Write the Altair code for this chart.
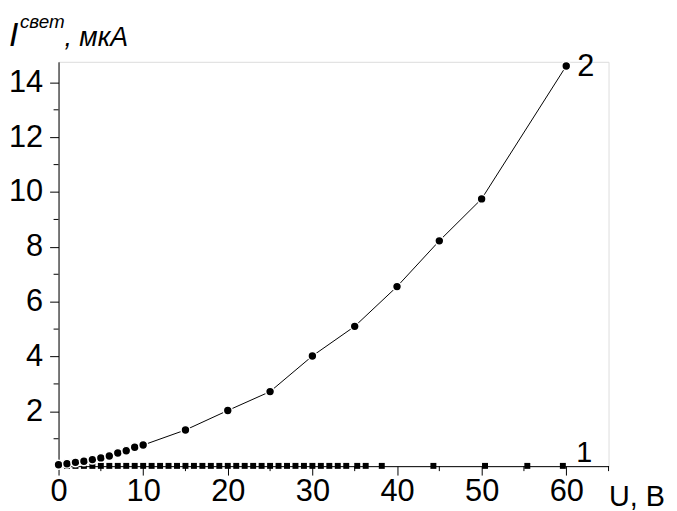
import altair as alt
import pandas as pd

# Series 2 (circles)
u2 = [0, 1, 2, 3, 4, 5, 6, 7, 8, 9, 10, 15, 20, 25, 30, 35, 40, 45, 50, 60]
i2 = [0.05, 0.09, 0.14, 0.18, 0.24, 0.30, 0.37, 0.48, 0.56, 0.69, 0.77,
      1.32, 2.03, 2.72, 4.02, 5.10, 6.55, 8.22, 9.75, 14.60]

# Series 1 (squares)
u1 = [1, 2, 3, 4, 5, 6, 7, 8, 9, 10, 11, 12, 13, 14, 15, 16, 17, 18, 19, 20,
      21, 22, 23, 24, 25, 26, 27, 28, 29, 30, 31, 32, 33, 34, 35.3, 36.3, 38.2,
      44.3, 50.4, 55.4, 59.6]
i1 = [0.01, 0.01, 0.01, 0.01, 0.01, 0.01, 0.01, 0.01, 0.01, 0.01, 0.01, 0.01,
      0.01, 0.01, 0.01, 0.01, 0.01, 0.01, 0.01, 0.01, 0.01, 0.01, 0.01, 0.01,
      0.01, 0.01, 0.01, 0.01, 0.01, 0.01, 0.01, 0.01, 0.01, 0.01, 0.01, 0.01,
      0.01, 0.01, 0.01, 0.01, 0.01]

x_major = [0, 10, 20, 30, 40, 50, 60]
x_minor = [5, 15, 25, 35, 45, 55, 65]
y_major = [2, 4, 6, 8, 10, 12, 14]
y_minor = [1, 3, 5, 7, 9, 11, 13]

FONT = "Liberation Sans"
W, H = 555, 408

df2 = pd.DataFrame({"u": u2, "i": i2})
df1 = pd.DataFrame({"u": u1, "i": i1})

xs = alt.Scale(domain=[0, 65], nice=False, zero=False)
ys = alt.Scale(domain=[0, 14.75], nice=False, zero=False)

x_axis = alt.Axis(
    values=x_major, tickSize=9, labelPadding=2, labelOverlap=False,
    grid=False, domainColor="black", tickColor="black", labelColor="black",
    labelFont=FONT, labelFontSize=31, labelFlush=False,
    title="U, В", titleFont=FONT, titleFontSize=29, titleFontWeight="normal",
    titleColor="black", titleX=555, titleY=40, titleAlign="left",
    titleBaseline="alphabetic",
)
y_axis = alt.Axis(
    values=y_major, tickSize=9, labelPadding=7, labelOverlap=False,
    grid=False, domainColor="black", tickColor="black", labelColor="black",
    labelFont=FONT, labelFontSize=31, labelFlush=False,
    title=None,
)

line2 = alt.Chart(df2).mark_line(color="black", strokeWidth=1).encode(
    x=alt.X("u:Q", scale=xs, axis=x_axis),
    y=alt.Y("i:Q", scale=ys, axis=y_axis),
)
pts2 = alt.Chart(df2).mark_point(
    shape="circle", filled=True, color="black", size=80, opacity=1,
    stroke="white", strokeWidth=1.5,
).encode(x="u:Q", y="i:Q")
pts1 = alt.Chart(df1).mark_point(
    shape="square", filled=True, color="black", size=36, opacity=1,
).encode(x="u:Q", y="i:Q")

# minor ticks
ymin_ticks = alt.Chart(pd.DataFrame({"v": y_minor})).mark_rule(
    color="black", strokeWidth=1
).encode(y="v:Q", x=alt.value(-5), x2=alt.value(0))
xmin_ticks = alt.Chart(pd.DataFrame({"v": x_minor})).mark_rule(
    color="black", strokeWidth=1
).encode(x="v:Q", y=alt.value(H), y2=alt.value(H + 5))

lab2 = alt.Chart(pd.DataFrame({"u": [60], "i": [14.6], "t": ["2"]})).mark_text(
    font=FONT, fontSize=31, align="left", baseline="middle", dx=11, dy=1, color="black"
).encode(x="u:Q", y="i:Q", text="t:N")
lab1 = alt.Chart(pd.DataFrame({"u": [60], "i": [0.01], "t": ["1"]})).mark_text(
    font=FONT, fontSize=29, align="left", baseline="alphabetic", dx=10, dy=-4, color="black"
).encode(x="u:Q", y="i:Q", text="t:N")

# y-axis title with superscript
t_I = alt.Chart(pd.DataFrame({"t": ["I"]})).mark_text(
    font=FONT, fontSize=34, fontStyle="italic", align="left", baseline="alphabetic", color="black"
).encode(x=alt.value(-50), y=alt.value(-16), text="t:N")
t_sup = alt.Chart(pd.DataFrame({"t": ["свет"]})).mark_text(
    font=FONT, fontSize=19, fontStyle="italic", align="left", baseline="alphabetic", color="black"
).encode(x=alt.value(-39), y=alt.value(-34), text="t:N")
t_unit = alt.Chart(pd.DataFrame({"t": [", мкА"]})).mark_text(
    font=FONT, fontSize=27, fontStyle="italic", align="left", baseline="alphabetic", color="black"
).encode(x=alt.value(6), y=alt.value(-16), text="t:N")

chart = alt.layer(
    line2, ymin_ticks, xmin_ticks, pts1, pts2, lab2, lab1, t_I, t_sup, t_unit
).properties(
    width=W, height=H,
    autosize=alt.AutoSizeParams(type="none"),
    padding={"left": 51, "top": 52, "right": 61, "bottom": 50},
).configure_view(strokeWidth=0).configure(background="white")

chart.save("out.html", embed_options={"renderer": "svg", "actions": False})
